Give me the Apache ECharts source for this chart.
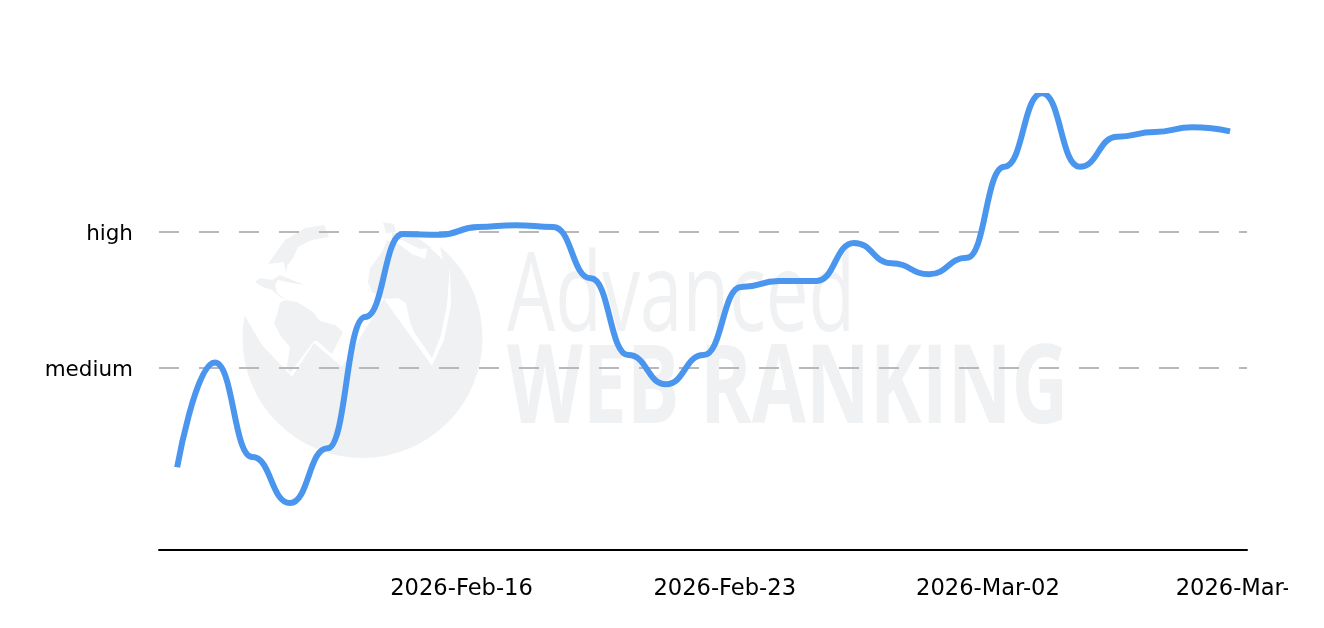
<!DOCTYPE html>
<html>
<head>
<meta charset="utf-8">
<title>Ranking trend</title>
<script src="https://cdn.jsdelivr.net/npm/echarts@6/dist/echarts.min.js"></script>
<style>
  html, body { margin: 0; padding: 0; background: #fff; }
  #chart { width: 1288px; height: 628px; }
</style>
</head>
<body>
<div id="chart"></div>
<script>
// daily points, they sit a bit off midnight in the source chart
const dates = [
  "2026-02-08T10:30", "2026-02-09T10:30", "2026-02-10T10:30", "2026-02-11T10:30", "2026-02-12T10:30",
  "2026-02-13T10:30", "2026-02-14T10:30", "2026-02-15T10:30", "2026-02-16T10:30", "2026-02-17T10:30",
  "2026-02-18T10:30", "2026-02-19T10:30", "2026-02-20T10:30", "2026-02-21T10:30", "2026-02-22T10:30",
  "2026-02-23T10:30", "2026-02-24T10:30", "2026-02-25T10:30", "2026-02-26T10:30", "2026-02-27T10:30",
  "2026-02-28T10:30", "2026-03-01T10:30", "2026-03-02T10:30", "2026-03-03T10:30", "2026-03-04T10:30",
  "2026-03-05T10:30", "2026-03-06T10:30", "2026-03-07T10:30", "2026-03-08T10:30"
];
// 0 = low, 1 = medium, 2 = high, 3 = very high
const values = [
  0.27, 1.04, 0.345, 0.007, 0.41, 1.375, 1.985, 1.98, 2.037, 2.05,
  2.037, 1.66, 1.095, 0.88, 1.095, 1.595, 1.64, 1.64, 1.92, 1.77,
  1.69, 1.81, 2.48, 3.02, 2.48, 2.70, 2.735, 2.77, 2.74
];
const yTicks = [1, 2];
const yLabels = ["{lab|medium}", "{lab|high}"];
// last tick is pulled back to the axis end, ECharts drops labels past the extent
const xMin = "2026-02-07T22:55";
const xMax = "2026-03-08T21:20";
const xTicks = ["2026-02-16T00:00", "2026-02-23T00:00", "2026-03-02T00:00", xMax];
const xLabels = ["2026-Feb-16", "2026-Feb-23", "2026-Mar-02", "{last|2026-Mar-09}"];

const font = "'DejaVu Sans'";
const wmColor = "#f0f1f3";

function ms(s) {
  return new Date(s).getTime();
}

function poly(points, fill) {
  return { type: "polygon", z: -10, silent: true, shape: { points: points }, style: { fill: fill } };
}

function watermark() {
  return [
    { type: "circle", z: -10, silent: true, shape: { cx: 362.5, cy: 338, r: 120 }, style: { fill: wmColor } },
    // upper part of the globe is white
    poly([[235, 300], [243, 313], [262, 345], [292, 377], [314, 343], [342, 367], [384, 299], [372, 292], [368, 282],
      [370, 268], [382, 252], [387, 240], [400, 245], [412, 254], [425, 259], [428, 246], [443, 260], [437, 232],
      [400, 205], [240, 205]], "#fff"),
    // thin stripe of the logo
    poly([[384, 299], [398, 298], [406, 303], [410, 322], [414, 332], [432, 358], [441, 335], [447, 305], [450, 265],
      [451, 305], [444, 340], [432, 366]], "#fff"),
    // north america
    poly([[324, 225], [329, 237], [312, 240], [298, 247], [293, 258], [287, 266], [286, 273], [284, 262], [268, 264],
      [285, 240], [305, 228]], wmColor),
    poly([[255, 282], [260, 278], [272, 280], [280, 275], [292, 280], [305, 285], [292, 283], [278, 280], [275, 285],
      [277, 293], [285, 299], [280, 297], [272, 290], [263, 287]], wmColor),
    // south america
    poly([[280, 303], [285, 300], [297, 302], [313, 312], [320, 321], [335, 325], [343, 332], [338, 342], [332, 354],
      [317, 341], [314, 341], [290, 373], [287, 367], [290, 347], [280, 335], [274, 323], [277, 315]], wmColor),
    // europe bits near the top
    poly([[383, 222], [394, 224], [396, 232], [386, 233]], wmColor),
    poly([[392, 232], [418, 238], [432, 248], [420, 249], [402, 240], [392, 240]], wmColor),
    {
      type: "text", z: -10, silent: true, x: 507, y: 245, scaleX: 0.70,
      style: { text: "Advanced", fill: wmColor, font: "400 109px 'Open Sans'", textAlign: "left" }
    },
    {
      type: "text", z: -10, silent: true, x: 507, y: 337, scaleX: 0.72,
      style: { text: "WEB RANKING", fill: wmColor, font: "700 109px 'Open Sans'", textAlign: "left" }
    }
  ];
}

const myChart = echarts.init(document.querySelector("#chart"), null, { renderer: "canvas" });

myChart.setOption({
  animation: false,
  backgroundColor: "#fff",
  graphic: watermark(),
  grid: { left: 159, right: 41, top: 96, bottom: 78, outerBoundsMode: "none" },
  xAxis: {
    type: "value",
    min: ms(xMin),
    max: ms(xMax),
    axisLine: { show: true, onZero: false, lineStyle: { color: "#000", width: 2 } },
    axisTick: { show: false },
    splitLine: { show: false },
    axisLabel: {
      customValues: xTicks.map(ms),
      margin: 28,
      color: "#000",
      fontFamily: font,
      fontSize: 22.6,
      rich: {
        last: { color: "#000", fontFamily: font, fontSize: 22.6, padding: [0, 0, 0, 1] }
      },
      formatter: function (val) {
        return xLabels[xTicks.map(ms).indexOf(val)] || "";
      }
    }
  },
  yAxis: {
    type: "value",
    min: -0.338,
    max: 3,
    axisLine: { show: false },
    axisTick: { show: false, customValues: yTicks },
    splitLine: { show: true, lineStyle: { color: "#b8b8b8", width: 2, type: [20, 20] } },
    axisLabel: {
      customValues: yTicks,
      margin: 26,
      color: "#000",
      fontFamily: font,
      fontSize: 21.5,
      rich: {
        lab: { color: "#000", fontFamily: font, fontSize: 21.5, padding: [4, 0, 0, 0] }
      },
      formatter: function (val) {
        return yLabels[yTicks.indexOf(val)] || "";
      }
    }
  },
  series: [
    {
      type: "line",
      data: dates.map((d, i) => [ms(d), values[i]]),
      smooth: 0.5,
      smoothMonotone: "x",
      showSymbol: false,
      clip: true,
      lineStyle: { color: "#4a96ee", width: 6, cap: "butt" }
    }
  ]
});
</script>
</body>
</html>
